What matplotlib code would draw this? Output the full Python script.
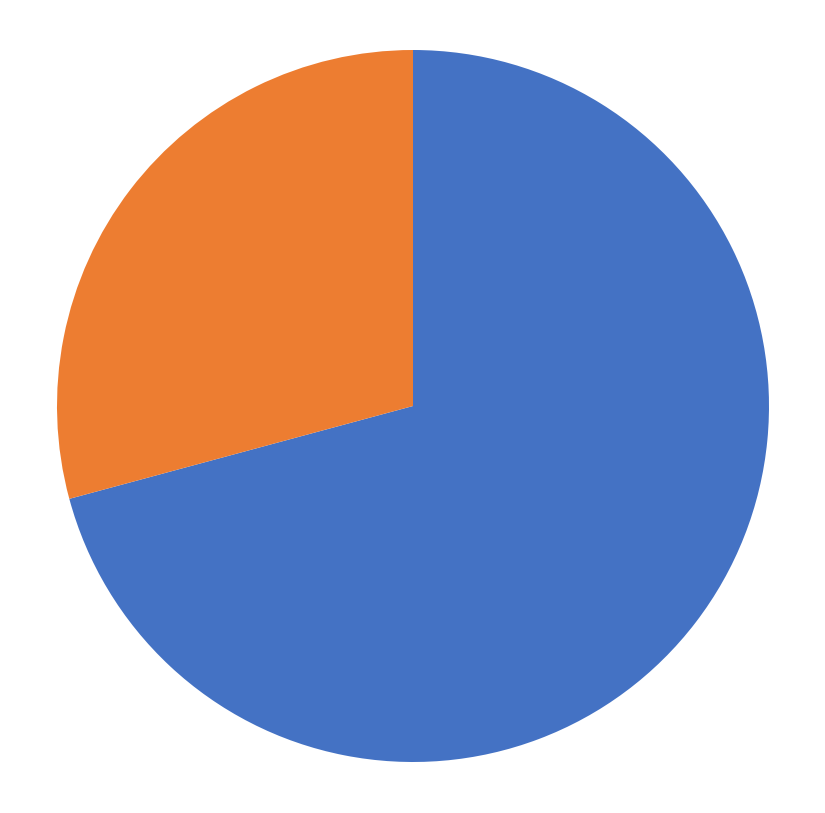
import matplotlib
matplotlib.use('Agg')
import matplotlib.pyplot as plt

labels = ['Series A', 'Series B']
values = [70.8, 29.2]
colors = ['#4472C4', '#ED7D31']

fig = plt.figure(figsize=(8.25, 8.13), dpi=100)
# pie centre ~ (413, 406) px, radius ~356 px
cx, cy, r = 413, 406, 356
ax = fig.add_axes([(cx - r) / 825, (813 - cy - r) / 813, 2 * r / 825, 2 * r / 813])
ax.pie(values, colors=colors, startangle=90, counterclock=False,
       wedgeprops=dict(linewidth=0))
ax.set_aspect('auto')
ax.set_xlim(-1, 1)
ax.set_ylim(-1, 1)
ax.axis('off')

fig.savefig('out.png', dpi=100)
